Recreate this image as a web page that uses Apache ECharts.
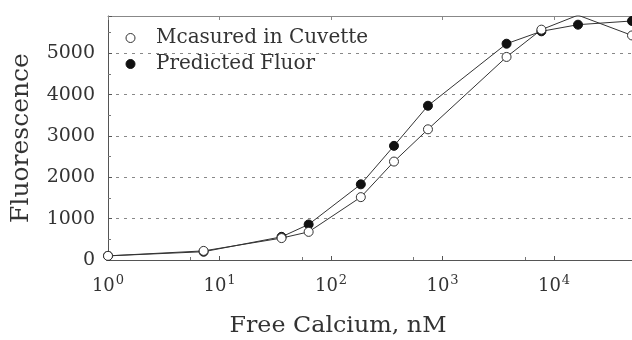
<!DOCTYPE html>
<html><head><meta charset="utf-8">
<script src="https://cdn.jsdelivr.net/npm/echarts@6/dist/echarts.min.js"></script>
<style>html,body{margin:0;padding:0;background:#fff}#c{width:632px;height:340px}</style>
</head><body><div id="c"></div>
<script>
const calcium = [1, 7.2, 36, 63, 185, 367, 740, 3750, 7700, 16400, 50000];
const measured = [100, 220, 530, 680, 1520, 2380, 3160, 4910, 5570, 5920, 5430];
const predicted = [100, 200, 560, 860, 1830, 2760, 3730, 5230, 5530, 5690, 5780];
const yTicks = [0, 1000, 2000, 3000, 4000, 5000];
const seriesNames = ['Mcasured in Cuvette', 'Predicted Fluor'];
const xTitle = 'Free Calcium, nM';
const yTitle = 'Fluorescence';

const FONT = 'DejaVu Serif';
const TXT = '#333';
const chart = echarts.init(document.getElementById('c'), null, {renderer: 'canvas'});
const pairs = arr => calcium.map((x, i) => [x, arr[i]]);
chart.setOption({
  animation: false,
  backgroundColor: '#fff',
  grid: {left: 108, right: 0, top: 16, bottom: 80},
  legend: {
    orient: 'vertical', left: 125.5, top: 28, padding: 0, itemWidth: 9, itemHeight: 9, itemGap: 6,
    textStyle: {fontFamily: FONT, fontSize: 20, color: TXT, lineHeight: 20, padding: [0, 0, 0, 16]},
    data: [
      {name: seriesNames[0], icon: 'circle', itemStyle: {color: '#fff', borderColor: '#333', borderWidth: 1}},
      {name: seriesNames[1], icon: 'circle', itemStyle: {color: '#111', borderColor: '#111', borderWidth: 1}}
    ]
  },
  xAxis: [{
    type: 'log', min: 1, max: 50000, logBase: 10,
    axisLine: {show: true, lineStyle: {color: '#555', width: 1}},
    axisTick: {show: true, inside: true, length: 4, lineStyle: {color: '#555'}},
    minorTick: {show: true, splitNumber: 2, length: 3, lineStyle: {color: '#777'}},
    splitLine: {show: false},
    axisLabel: {
      margin: 14, showMaxLabel: false,
      formatter: v => {
        const e = Math.log10(v);
        if (Math.abs(e - Math.round(e)) > 1e-6) return '';
        return '{b|10}{s|' + Math.round(e) + '}';
      },
      rich: {
        b: {fontFamily: FONT, fontSize: 18, color: TXT},
        s: {fontFamily: FONT, fontSize: 13, color: TXT, padding: [0, 0, 12, 1]}
      }
    }
  }, {
    type: 'log', min: 1, max: 50000, logBase: 10, position: 'top',
    axisLine: {show: true, lineStyle: {color: '#888', width: 1}},
    axisTick: {show: true, inside: true, length: 4, lineStyle: {color: '#888'}},
    axisLabel: {show: false}, splitLine: {show: false}
  }],
  yAxis: {
    type: 'value', min: 0, max: 5900, interval: 1000,
    axisLine: {show: true, lineStyle: {color: '#555', width: 1}},
    axisTick: {show: true, inside: true, length: 4, lineStyle: {color: '#555'}},
    minorTick: {show: true, splitNumber: 2, length: 3, lineStyle: {color: '#777'}},
    axisLabel: {
      margin: 13, showMaxLabel: false, fontFamily: FONT, fontSize: 19, color: TXT,
      formatter: v => yTicks.includes(v) ? String(v) : ''
    },
    splitLine: {show: true, lineStyle: {color: '#888', type: [3, 5], width: 1}}
  },
  graphic: [{
    type: 'text', x: 338, y: 326, scaleX: 1.08,
    style: {text: xTitle, font: '22px "' + FONT + '"', fill: TXT, textAlign: 'center', textVerticalAlign: 'middle'}
  }, {
    type: 'text', x: 21, y: 138, rotation: Math.PI / 2,
    style: {text: yTitle, font: '25px "' + FONT + '"', fill: TXT, textAlign: 'center', textVerticalAlign: 'middle'}
  }],
  series: [{
    name: seriesNames[1], type: 'line', data: pairs(predicted),
    symbol: 'circle', symbolSize: 9,
    lineStyle: {color: '#333', width: 1},
    itemStyle: {color: '#111', borderColor: '#111', borderWidth: 1}
  }, {
    name: seriesNames[0], type: 'line', data: pairs(measured),
    symbol: 'circle', symbolSize: 9,
    lineStyle: {color: '#333', width: 1},
    itemStyle: {color: '#fff', borderColor: '#333', borderWidth: 1}
  }]
});
</script></body></html>
